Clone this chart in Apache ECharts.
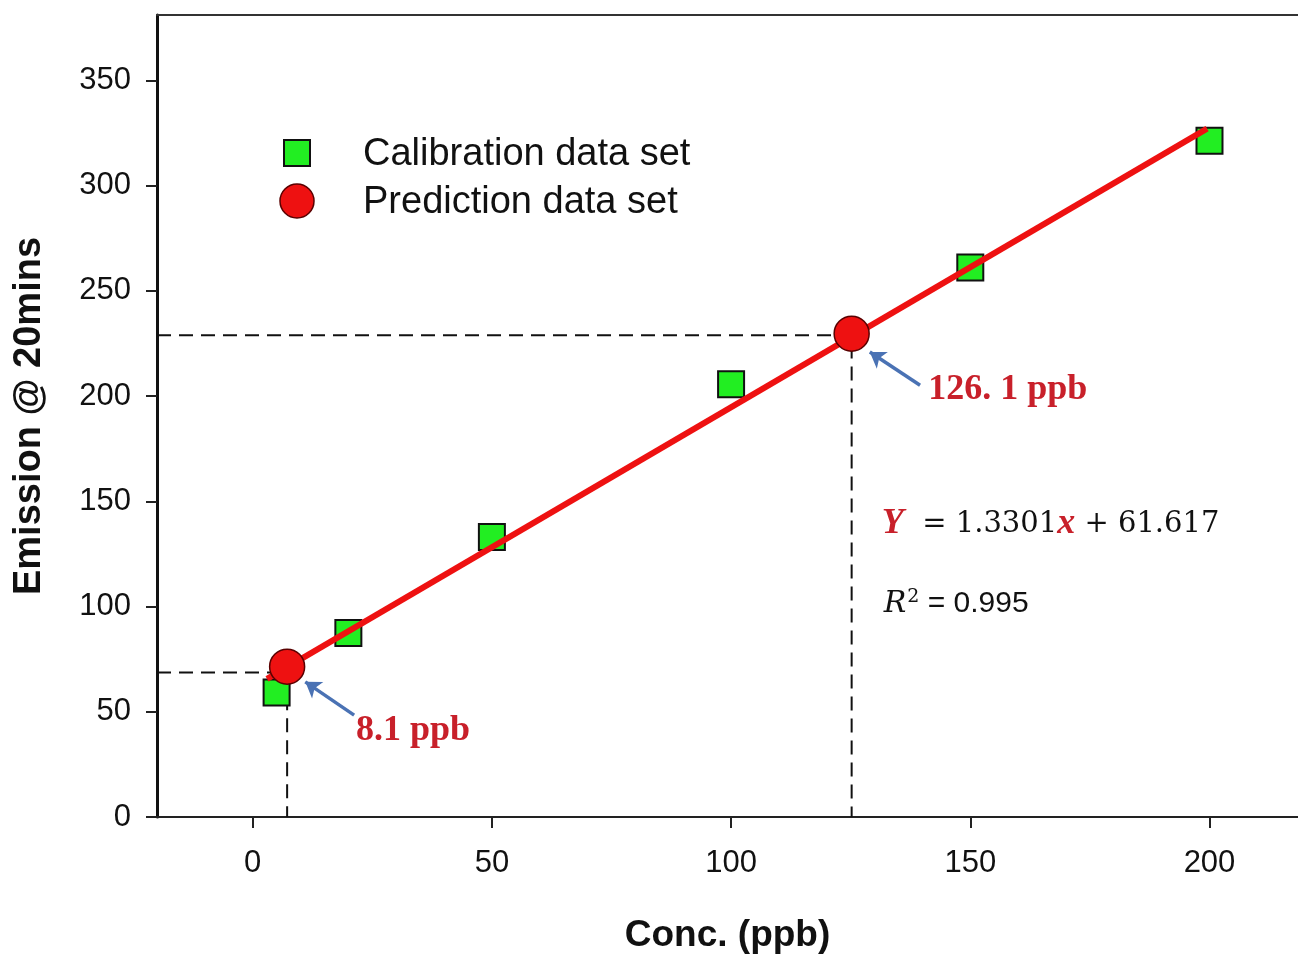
<!DOCTYPE html>
<html>
<head>
<meta charset="utf-8">
<script src="https://cdn.jsdelivr.net/npm/echarts@6/dist/echarts.min.js"></script>
<style>html,body{margin:0;padding:0;background:#fff}#c{width:1298px;height:954px}</style>
</head>
<body>
<div id="c"></div>
<script>
// ---- data ----
const xTicks = [0, 50, 100, 150, 200];
const yTicks = [0, 50, 100, 150, 200, 250, 300, 350];
const calX = [5, 20, 50, 100, 150, 200];
const calY = [59.2, 87.4, 133, 205.6, 261, 321.3];
const predX = [7.2, 125.2];
const predY = [71.4, 229.6];
const predLabels = ['8.1 ppb', '126. 1 ppb'];
const guideY = [68.7, 228.9];
const fitX = [3, 199.5];
const fitY = [65.6, 327.0];
const arrowTailX = [21.2, 139.5];
const arrowTailY = [48.4, 205.1];
const arrowHeadX = [11.0, 129.0];
const arrowHeadY = [64.2, 220.9];
const labelX = [21.6, 141.2];
const labelY = [40.8, 202.8];
const eqPos = [131.5, 139.1];
const r2Pos = [131.9, 101.1];
const legendNames = ['Calibration data set', 'Prediction data set'];

const chart = echarts.init(document.getElementById('c'));

const guideSeries = predX.map((x, i) => ({
  type: 'line', z: 1, silent: true, symbol: 'none', animation: false,
  data: [[-20, guideY[i]], [x, guideY[i]], [x, 0]],
  lineStyle: { color: '#111', width: 2, type: [14, 8] }
}));

const option = {
  animation: false,
  backgroundColor: '#fff',
  grid: { left: 157, top: 15, right: 0, bottom: 137, containLabel: false, outerBoundsMode: 'none' },
  xAxis: [{
    type: 'value', min: -20, max: 218.5, position: 'bottom',
    axisLine: { show: true, onZero: false, lineStyle: { color: '#222', width: 2 } },
    axisTick: { show: true, inside: false, length: 11, lineStyle: { color: '#222', width: 2 }, customValues: xTicks },
    axisLabel: { customValues: xTicks, fontSize: 31, color: '#111', margin: 31, fontFamily: 'Liberation Sans' },
    splitLine: { show: false },
    name: 'Conc. (ppb)', nameLocation: 'middle', nameGap: 100,
    nameTextStyle: { fontSize: 37, fontWeight: 'bold', color: '#111', fontFamily: 'Liberation Sans' }
  }, {
    type: 'value', min: -20, max: 218.5, position: 'top',
    axisLine: { show: true, onZero: false, lineStyle: { color: '#333', width: 2 } },
    axisTick: { show: false }, axisLabel: { show: false }, splitLine: { show: false }
  }],
  yAxis: {
    type: 'value', min: 0, max: 381,
    axisLine: { show: true, onZero: false, lineStyle: { color: '#111', width: 3 } },
    axisTick: { show: true, inside: false, length: 11, lineStyle: { color: '#222', width: 2 }, customValues: yTicks },
    axisLabel: { customValues: yTicks, fontSize: 31, color: '#111', margin: 26, fontFamily: 'Liberation Sans' },
    splitLine: { show: false },
    name: 'Emission @ 20mins', nameLocation: 'middle', nameGap: 108,
    nameTextStyle: { fontSize: 38, fontWeight: 'bold', color: '#111', fontFamily: 'Liberation Sans' }
  },
  graphic: [
    { type: 'rect', shape: { x: 284, y: 140, width: 26, height: 26 }, style: { fill: '#22ee22', stroke: '#111', lineWidth: 2 }, z: 100 },
    { type: 'circle', shape: { cx: 297, cy: 201, r: 17 }, style: { fill: '#ee1111', stroke: '#5a0000', lineWidth: 1.5 }, z: 100 },
    { type: 'text', style: { x: 363, y: 155, text: legendNames[0], font: '38px "Liberation Sans"', fill: '#111', verticalAlign: 'middle' }, z: 100 },
    { type: 'text', style: { x: 363, y: 203, text: legendNames[1], font: '38px "Liberation Sans"', fill: '#111', verticalAlign: 'middle' }, z: 100 }
  ],
  series: [
    ...guideSeries,
    {
      name: legendNames[0], type: 'scatter', z: 2, symbol: 'rect', symbolSize: 26,
      data: calX.map((x, i) => [x, calY[i]]),
      itemStyle: { color: '#22ee22', borderColor: '#111', borderWidth: 2, opacity: 1 }
    },
    {
      name: 'fit', type: 'line', z: 3, symbol: 'none', silent: true,
      data: fitX.map((x, i) => [x, fitY[i]]),
      lineStyle: { color: '#ee1111', width: 6 }
    },
    {
      name: legendNames[1], type: 'scatter', z: 4, symbol: 'circle', symbolSize: 35,
      data: predX.map((x, i) => [x, predY[i]]),
      itemStyle: { color: '#ee1111', borderColor: '#5a0000', borderWidth: 1.5, opacity: 1 }
    },
    {
      name: 'annot', type: 'scatter', z: 5, data: [], silent: true,
      markLine: {
        silent: true, animation: false, symbol: ['none', 'arrow'], symbolSize: [15, 15],
        label: { show: false },
        lineStyle: { color: '#4a72b4', width: 3.5, type: 'solid' },
        data: arrowTailX.map((x, i) => [{ coord: [x, arrowTailY[i]] }, { coord: [arrowHeadX[i], arrowHeadY[i]] }])
      },
      markPoint: {
        silent: true, animation: false, symbol: 'circle', symbolSize: 0,
        data: [
          ...predLabels.map((t, i) => ({
            coord: [labelX[i], labelY[i]], value: t,
            label: { show: true, position: 'inside', align: 'left', verticalAlign: 'middle', formatter: t,
              fontFamily: 'Liberation Serif', fontWeight: 'bold', fontSize: 36, color: '#c8202a' }
          })),
          {
            coord: eqPos, value: 'eq',
            label: {
              show: true, position: 'inside', align: 'left', verticalAlign: 'middle',
              formatter: '{v|Y}{n|  = 1.3301}{v|x}{n| + 61.617}',
              rich: {
                v: { fontFamily: 'Liberation Serif', fontWeight: 'bold', fontStyle: 'italic', fontSize: 36, color: '#c8202a' },
                n: { fontFamily: 'DejaVu Serif', fontSize: 29, color: '#111' }
              }
            }
          },
          {
            coord: r2Pos, value: 'r2',
            label: {
              show: true, position: 'inside', align: 'left', verticalAlign: 'middle',
              formatter: '{i|R}{s|2}{n| = 0.995}',
              rich: {
                i: { fontFamily: 'DejaVu Serif', fontStyle: 'italic', fontSize: 30, color: '#111' },
                s: { fontFamily: 'DejaVu Serif', fontSize: 19, color: '#111', verticalAlign: 'top', padding: [0, 0, 14, 1] },
                n: { fontFamily: 'Liberation Sans', fontSize: 30, color: '#111' }
              }
            }
          }
        ]
      }
    }
  ]
};
chart.setOption(option);
</script>
</body>
</html>
